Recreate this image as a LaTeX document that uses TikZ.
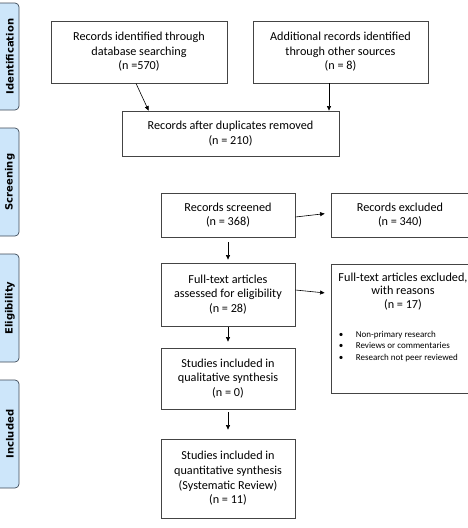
\documentclass[tikz,border=0pt]{standalone}
\usepackage{fontspec}
\setmainfont{Carlito}
\newfontfamily\tabfont{DejaVu Sans}
\usetikzlibrary{arrows.meta,calc}
\definecolor{tabblue}{HTML}{CDE6FA}
\definecolor{tabedge}{HTML}{3E4A58}
\definecolor{boxedge}{HTML}{444444}
\begin{document}
\begin{tikzpicture}[x=1pt,y=-1pt,
  box/.style={draw=boxedge, line width=0.8pt, align=center, inner sep=2pt,
    font=\fontsize{12.2}{14.6}\selectfont},
  arr/.style={-{Triangle[length=4.5pt,width=4pt]}, line width=0.6pt},
  tab/.style={fill=tabblue, draw=tabedge, line width=0.7pt, rounded corners=4pt},
  tablabel/.style={rotate=90, font=\tabfont\bfseries\fontsize{10}{11}\selectfont}]
\useasboundingbox (0,0) rectangle (468,528);
\draw[tab] (-5,3) -- (19,3) -- (19,110) -- (-5,110);
\node[tablabel] (tabid) at (10,56.5) {Identification};
\draw[tab] (-5,128) -- (19,128) -- (19,236) -- (-5,236);
\node[tablabel] (tabscr) at (10,182) {Screening};
\draw[tab] (-5,254) -- (19,254) -- (19,362) -- (-5,362);
\node[tablabel] (tabel) at (10,308) {Eligibility};
\draw[tab] (-5,380) -- (19,380) -- (19,488) -- (-5,488);
\node[tablabel] (tabinc) at (10,434) {Included};
\node[box, minimum width=176, minimum height=62] (dbase) at (139,52) {Records identified through\\database searching\\(n =570)};
\node[box, minimum width=175, minimum height=62] (other) at (340.5,52) {Additional records identified\\through other sources\\(n = 8)};
\node[box, minimum width=217, minimum height=45] (dup) at (230.5,133.5) {Records after duplicates removed\\(n = 210)};
\node[box, minimum width=134, minimum height=44] (screened) at (228,215) {Records screened\\(n = 368)};
\node[box, minimum width=138, minimum height=44] (excl) at (400,215) {Records excluded\\(n = 340)};
\node[box, minimum width=134, minimum height=63] (fulltext) at (228,294.5) {Full-text articles\\assessed for eligibility\\(n = 28)};
\node[box, minimum width=138, minimum height=129] (reasons) at (400,328.5) {};
\node[anchor=north, inner sep=0pt, align=center, font=\fontsize{12.2}{13.5}\selectfont] (reasonstxt) at ([xshift=3pt,yshift=-9pt]reasons.north) {Full-text articles excluded,\\with reasons\\(n = 17)};
\node[anchor=north west, inner sep=0pt, align=left, font=\fontsize{9}{11.5}\selectfont] (reasonlist) at ([xshift=8pt,yshift=-67pt]reasons.north west) {\makebox[17pt][l]{\textbullet}Non-primary research\\\makebox[17pt][l]{\textbullet}Reviews or commentaries\\\makebox[17pt][l]{\textbullet}Research not peer reviewed};
\node[box, minimum width=134, minimum height=61] (qual) at (228,378.5) {Studies included in\\qualitative synthesis\\(n = 0)};
\node[box, minimum width=134, minimum height=79] (quant) at (228,478.5) {Studies included in\\quantitative synthesis\\(Systematic Review)\\(n = 11)};
\draw[arr] ([xshift=-3pt]dbase.south) -- ([xshift=27pt]dup.north west);
\coordinate (otherout) at ([xshift=-11.5pt]other.south);
\draw[arr] (otherout) -- (otherout |- dup.north);
\draw[arr, shorten >=6pt] ([yshift=-2pt]screened.east) -- ([yshift=2pt]excl.west);
\draw[arr, shorten <=5pt, shorten >=3pt] (screened) -- (fulltext);
\draw[arr, shorten >=6pt] ([yshift=4.5pt]fulltext.east) -- ([yshift=35pt]reasons.west);
\draw[arr, shorten <=1pt, shorten >=6pt] (fulltext) -- (qual);
\draw[arr, shorten <=3pt, shorten >=9pt] (qual) -- (quant);
\end{tikzpicture}
\end{document}
